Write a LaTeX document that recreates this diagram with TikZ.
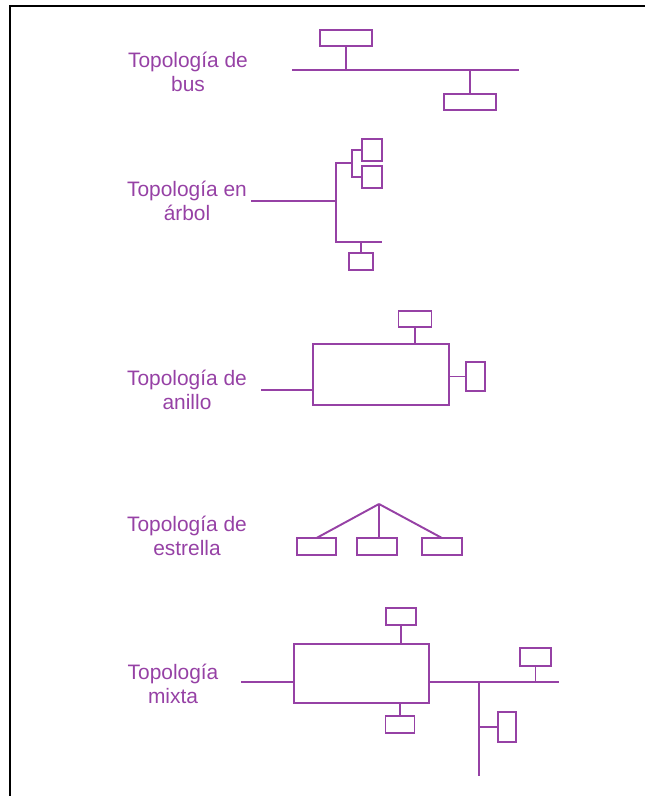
\documentclass[tikz,border=0pt]{standalone}
\usepackage{fontspec}
\setmainfont{Liberation Sans}
\usetikzlibrary{positioning}
\definecolor{topo}{RGB}{150,65,165}

\begin{document}
\begin{tikzpicture}[x=0.02cm, y=-0.02cm,
    wire/.style={draw=topo, line width=1.1pt},
    pc/.style 2 args={rectangle, draw=topo, line width=1.1pt, fill=white, inner sep=0pt, outer sep=0pt, minimum width=#1*0.02cm, minimum height=#2*0.02cm},
    lbl/.style={text=topo, align=center, font=\fontsize{11.9}{13.8}\selectfont}]
    \useasboundingbox (0,0) rectangle (645,796);
    \draw[line width=1.4pt] (10,796) -- (10,6) -- (645,6);

    \node[lbl] (tbus) at (188,72) {Topología de\\bus};
    \coordinate (busL) at (292,70);
    \coordinate (busR) at (519,70);
    \draw[wire] (busL) -- (busR);
    \node[pc={52}{16}] (bus1) at (346,38) {};
    \node[pc={52}{16}] (bus2) at (470,102) {};
    \draw[wire] (bus1) -- (bus1 |- busL);
    \draw[wire] (bus2) -- (bus2 |- busL);

    \node[lbl] (tarbol) at (187,201) {Topología en\\árbol};
    \coordinate (arbIn) at (251,201);
    \coordinate (arbJ) at (336,201);
    \coordinate (arbS) at (352,163);
    \coordinate (arbB) at (336,242);
    \coordinate (arbE) at (382,242);
    \node[pc={20}{22}] (a1) at (372,150) {};
    \node[pc={20}{22}] (a2) at (372,177) {};
    \node[pc={24}{17}] (a3) at (361,261.5) {};
    \draw[wire] (arbIn) -- (arbJ);
    \draw[wire] (a1) -| (arbS) |- (a2);
    \draw[wire] (arbS) -- (arbS -| arbJ) -- (arbB) -- (arbE);
    \draw[wire] (a3) -- (a3 |- arbB);

    \node[lbl] (tanillo) at (187,390) {Topología de\\anillo};
    \node[pc={136}{61}, fill=none] (ring) at (381,374.5) {};
    \coordinate (ringIn) at (261,390);
    \node[pc={33}{16}] (r1) at (415,319) {};
    \node[pc={19}{29}] (r2) at (475.5,376.5) {};
    \draw[wire] (ringIn) -- (ringIn -| ring.west);
    \draw[wire] (r1) -- (r1 |- ring.north);
    \draw[wire] (r2) -- (r2 -| ring.east);

    \node[lbl] (testrella) at (187,536) {Topología de\\estrella};
    \coordinate (hub) at (379,504);
    \node[pc={39}{17}] (s1) at (316.5,546.5) {};
    \node[pc={40}{17}] (s2) at (377,546.5) {};
    \node[pc={40}{17}] (s3) at (442,546.5) {};
    \draw[wire] (hub) -- (s1.north);
    \draw[wire] (hub) -- (hub |- s2.north);
    \draw[wire] (hub) -- (s3.north);

    \node[lbl] (tmixta) at (173,684) {Topología\\mixta};
    \node[pc={135}{59}, fill=none] (mix) at (361.5,673.5) {};
    \coordinate (mixIn) at (241,682);
    \coordinate (mixR) at (559,682);
    \coordinate (mixT) at (479,682);
    \coordinate (mixB) at (479,776);
    \node[pc={30}{17}] (m1) at (401,616.5) {};
    \node[pc={29}{17}] (m2) at (400,724.5) {};
    \node[pc={31}{18}] (m3) at (535.5,657) {};
    \node[pc={18}{30}] (m4) at (507,727) {};
    \draw[wire] (mixIn) -- (mixIn -| mix.west);
    \draw[wire] (mixIn -| mix.east) -- (mixR);
    \draw[wire] (mixT) -- (mixB);
    \draw[wire] (m1) -- (m1 |- mix.north);
    \draw[wire] (m2) -- (m2 |- mix.south);
    \draw[wire] (m3) -- (m3 |- mixR);
    \draw[wire] (m4) -- (m4 -| mixT);
\end{tikzpicture}
\end{document}
